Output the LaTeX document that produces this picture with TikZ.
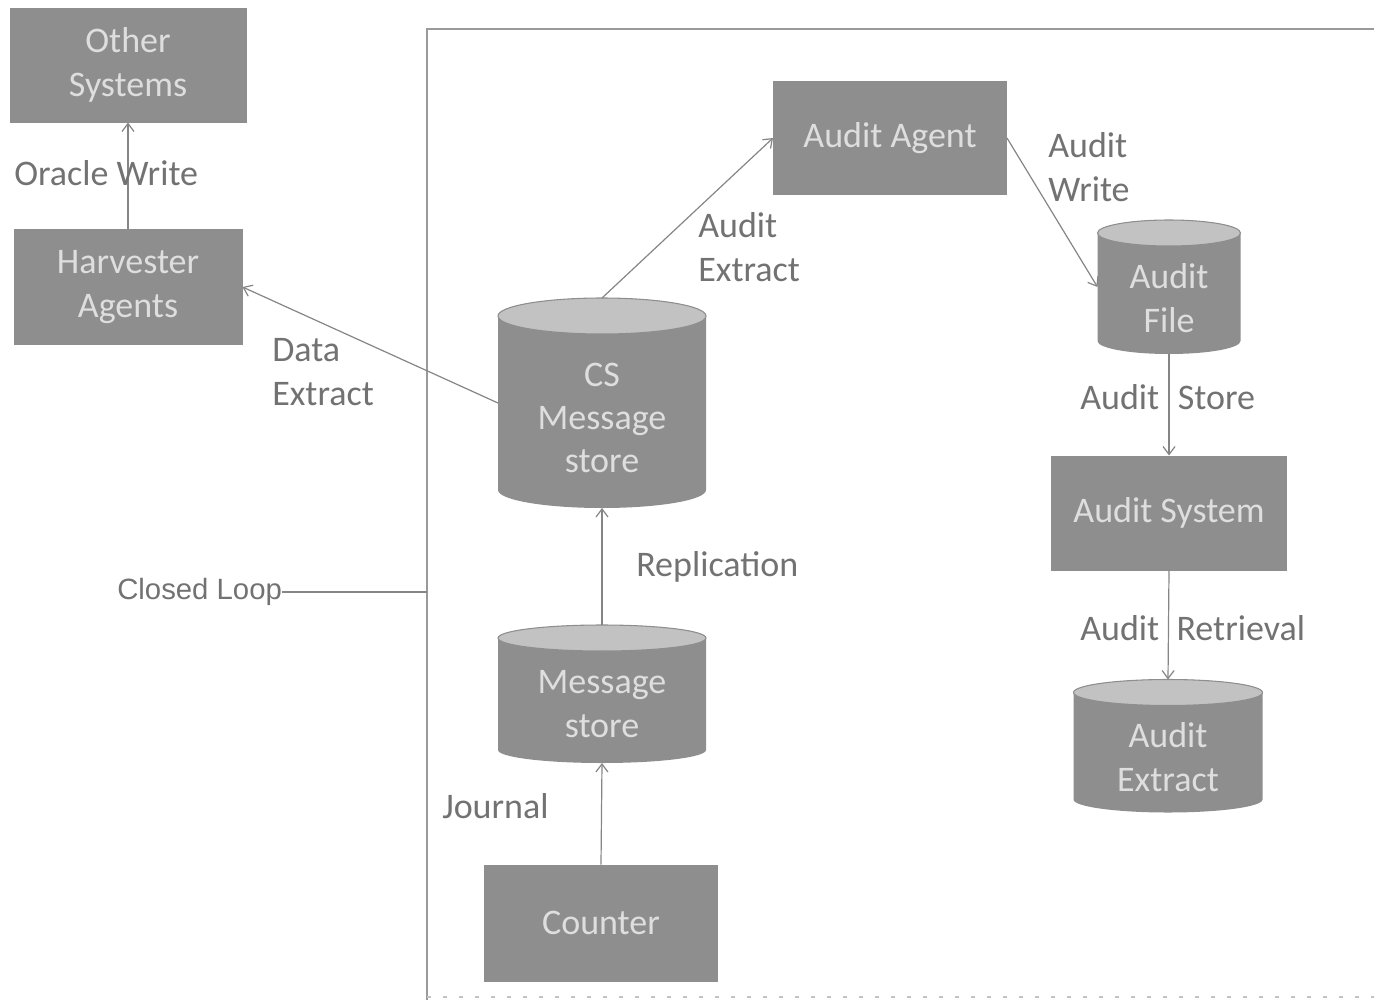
\documentclass[tikz,border=0pt]{standalone}
\usepackage{fontspec}
\setmainfont{Carlito}
\newfontfamily\loopfont{Liberation Sans}
\usetikzlibrary{calc,arrows.meta}

\definecolor{boxfill}{HTML}{8E8E8E}
\definecolor{boxtext}{HTML}{DEDEDE}
\definecolor{topfill}{HTML}{C2C2C2}
\definecolor{edgecol}{HTML}{858585}
\definecolor{lblcol}{HTML}{727272}
\definecolor{framecol}{HTML}{9A9A9A}

% database drum behind a named node: #1 node name, #2 ellipse y radius
\newcommand\drumshape[2]{%
  \fill[boxfill] let \p1=(#1.north west), \p2=(#1.south east), \n1={(\x2-\x1)/2} in
    (\x1,\y1-#2) -- (\x1,\y2+#2)
    arc[start angle=180, end angle=360, x radius=\n1, y radius=#2]
    -- (\x2,\y1-#2)
    arc[start angle=0, end angle=180, x radius=\n1, y radius=#2] -- cycle;
  \fill[topfill, draw=boxfill, line width=0.8pt] let \p1=(#1.north west), \p2=(#1.south east), \n1={(\x2-\x1)/2} in
    (\x1+\n1,\y1-#2) ellipse[x radius=\n1, y radius=#2];
}

\begin{document}
\begin{tikzpicture}[x=0.75pt, y=0.75pt,
  font=\fontsize{27}{32.5}\selectfont,
  box/.style={rectangle, fill=boxfill, text=boxtext, align=center, inner sep=0pt, outer sep=0pt},
  drum/.style={rectangle, inner sep=0pt, outer sep=0pt},
  drumtext/.style={text=boxtext, align=center, inner sep=0pt},
  flow/.style={draw=edgecol, line width=0.9pt, -{Straight Barb[length=6pt, width=9pt]}},
  lab/.style={text=lblcol, align=left, inner sep=0pt},
]
\useasboundingbox (0,0) rectangle (1374,-1000);

% enclosing frame (open at right)
\coordinate (frameTL) at (427,-29);
\coordinate (frameTR) at (1374,-29);
\coordinate (frameBL) at (427,-1000);
\coordinate (loopend) at (427,-592);
\draw[framecol, line width=1.3pt] (frameTR) -- (frameTL) -- (frameBL);
\draw[framecol!60, line width=1pt, dash pattern=on 3pt off 9pt] (427,-997) -- (1374,-997);

% rectangular blocks
\node[box, minimum width=177.75pt, minimum height=86.25pt] (other) at (128,-65) {Other\\Systems};
\node[box, minimum width=171.75pt, minimum height=87pt] (harv) at (128,-287) {Harvester\\Agents};
\node[box, minimum width=175.5pt, minimum height=85.5pt] (agent) at (890,-138) {Audit Agent};
\node[box, minimum width=175.5pt, minimum height=87.75pt] (counter) at (601,-923) {Counter};
\node[box, minimum width=177pt, minimum height=86.25pt] (asys) at (1169,-513) {Audit System};

% database drums
\node[drum, minimum width=156pt, minimum height=157.5pt] (cs) at (602,-403) {};
\node[drum, minimum width=156pt, minimum height=103.5pt] (ms) at (602,-694) {};
\node[drum, minimum width=107.25pt, minimum height=100.5pt] (afile) at (1169,-287) {};
\node[drum, minimum width=141.75pt, minimum height=99.75pt] (aext) at (1168,-746) {};
\drumshape{cs}{13.5pt}
\drumshape{ms}{9.75pt}
\drumshape{afile}{9.75pt}
\drumshape{aext}{9.75pt}
\node[drumtext] (cs-t) at (602,-418) {CS\\Message\\store};
\node[drumtext] (ms-t) at (602,-704) {Message\\store};
\node[drumtext] (afile-t) at (1169,-298) {Audit\\File};
\node[drumtext] (aext-t) at (1168,-757) {Audit\\Extract};

% connectors
\draw[flow] (harv.north) -- (other.south);
\draw[flow] (cs.west) -- (harv.east);
\draw[flow] (cs.north) -- (agent.west);
\draw[flow] (agent.east) -- (afile.west);
\draw[flow] (afile.south) -- (asys.north);
\draw[flow] (asys.south) -- (aext.north);
\draw[flow] (ms.north) -- (cs.south);
\draw[flow] (counter.north) -- (ms.south);

% connector labels
\node[lab, anchor=west] (l-oracle) at (14,-173) {Oracle Write};
\node[lab, anchor=west] (l-data) at (272,-372) {Data\\Extract};
\node[lab, anchor=west] (l-aextract) at (698,-247) {Audit\\Extract};
\node[lab, anchor=west] (l-awrite) at (1048,-167) {Audit\\Write};
\node[lab, anchor=west] (l-astore) at (1080,-397) {Audit\hspace{14pt}Store};
\node[lab, anchor=west] (l-aretr) at (1080,-628) {Audit\hspace{13pt}Retrieval};
\node[lab, anchor=west] (l-repl) at (636,-567) {Replication};
\node[lab, anchor=west] (l-journal) at (442,-806) {Journal};

% closed loop marker
\node[lab, anchor=west, font=\loopfont\fontsize{22}{26}\selectfont] (loop) at (117,-592) {Closed Loop};
\draw[edgecol, line width=0.9pt] (loop.east) -- (loop.east -| loopend);
\end{tikzpicture}
\end{document}
